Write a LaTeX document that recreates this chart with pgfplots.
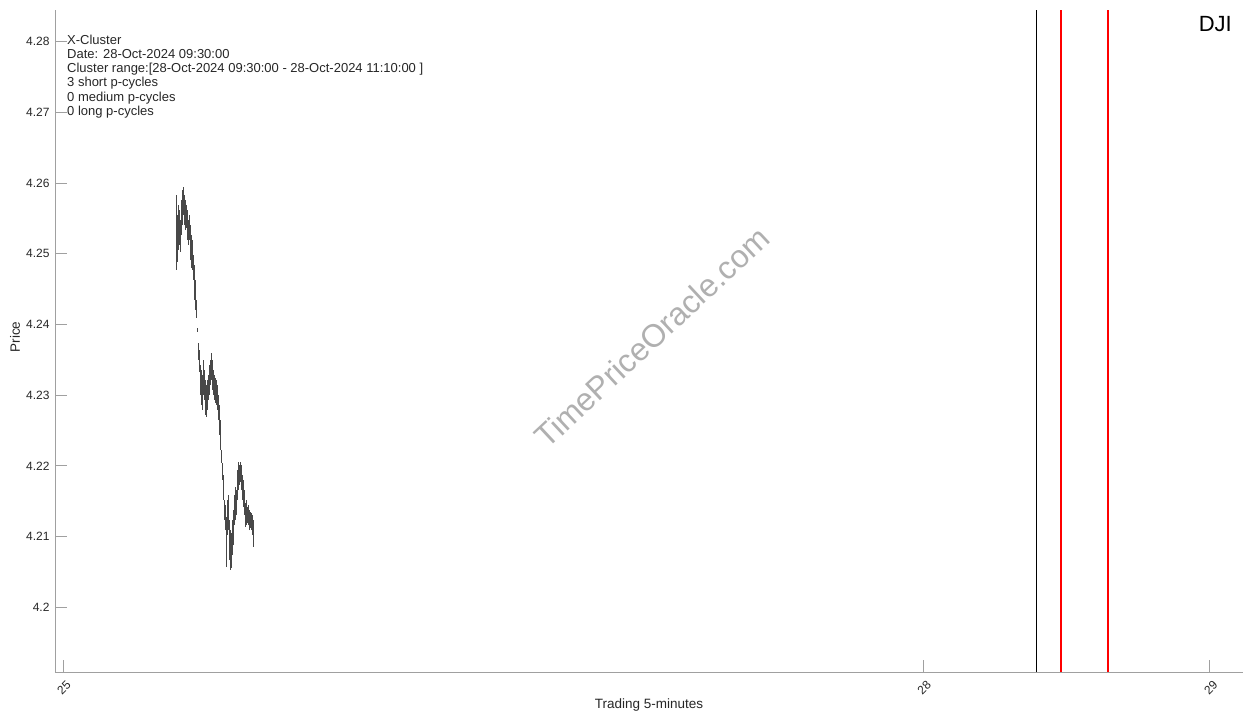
\documentclass[border=0pt]{standalone}
\usepackage{fontspec}
\setmainfont{Liberation Sans}
\usepackage{pgfplots}
\usepackage{pgfplotstable}
\pgfplotsset{compat=1.18}
\definecolor{barc}{HTML}{484848}
\definecolor{axc}{HTML}{A0A0A0}
\definecolor{txt}{HTML}{262626}
\definecolor{wm}{HTML}{B0B0B0}
\pgfplotstableread{
x lo hi
25.3958 4.24771 4.25832
25.3993 4.24884 4.25549
25.4028 4.25054 4.25690
25.4063 4.25125 4.25620
25.4097 4.25026 4.25478
25.4132 4.25266 4.25761
25.4167 4.25407 4.25902
25.4201 4.25549 4.25945
25.4236 4.25407 4.25832
25.4271 4.25337 4.25761
25.4306 4.25365 4.25690
25.4340 4.25195 4.25620
25.4375 4.25125 4.25478
25.4410 4.25195 4.25549
25.4444 4.24912 4.25407
25.4479 4.24799 4.25266
25.4514 4.24771 4.25195
25.4549 4.24630 4.24983
25.4583 4.24347 4.24842
25.4618 4.24205 4.24630
25.4653 4.24092 4.24347
25.4688 4.23894 4.23951
25.4722 4.23498 4.23738
25.4757 4.23328 4.23639
25.4792 4.23003 4.23427
25.4826 4.22862 4.23357
25.4861 4.22791 4.23286
25.4896 4.23003 4.23498
25.4931 4.22932 4.23357
25.4965 4.22720 4.23215
25.5000 4.22692 4.23144
25.5035 4.22791 4.23215
25.5069 4.22932 4.23286
25.5104 4.23003 4.23427
25.5139 4.23144 4.23498
25.5174 4.23215 4.23597
25.5208 4.23074 4.23498
25.5243 4.23003 4.23357
25.5278 4.22932 4.23286
25.5313 4.22890 4.23243
25.5347 4.22862 4.23215
25.5382 4.22791 4.23144
25.5417 4.22649 4.23003
25.5451 4.22437 4.22862
25.5486 4.22225 4.22649
25.5521 4.22041 4.22225
25.5556 4.21801 4.22041
25.5590 4.21518 4.21871
25.5625 4.21235 4.21518
25.5660 4.21093 4.21447
25.5694 4.20570 4.21277
25.5729 4.21023 4.21518
25.5764 4.21093 4.21589
25.5799 4.20669 4.21235
25.5833 4.20528 4.21093
25.5868 4.20556 4.21051
25.5903 4.20740 4.21235
25.5938 4.20881 4.21376
25.5972 4.21164 4.21589
25.6007 4.21235 4.21702
25.6042 4.21306 4.21659
25.6076 4.21518 4.21942
25.6111 4.21659 4.22055
25.6146 4.21730 4.22013
25.6181 4.21772 4.22055
25.6215 4.21659 4.22013
25.6250 4.21518 4.21871
25.6285 4.21419 4.21801
25.6319 4.21306 4.21659
25.6354 4.21136 4.21475
25.6389 4.21164 4.21518
25.6424 4.21192 4.21419
25.6458 4.21164 4.21447
25.6493 4.21093 4.21376
25.6528 4.21122 4.21348
25.6563 4.21093 4.21334
25.6597 4.21023 4.21306
25.6632 4.20853 4.21235
}\bars
\begin{document}
\begin{tikzpicture}
\path[use as bounding box] (0pt,0pt) rectangle (1244pt,719pt);
\node[rotate=43, font=\fontsize{32}{36}\selectfont, text=wm] at (652pt,382pt) {TimePriceOracle.com};
\begin{axis}[
  at={(55pt,47pt)}, anchor=south west,
  width=1188pt, height=662pt, scale only axis,
  xmin=24.9721, xmax=29.1158, ymin=4.19085, ymax=4.28448,
  axis lines=left, axis line style={-, draw=axc, line width=0.9pt},
  xtick={25,28,29},
  ytick={4.2,4.21,4.22,4.23,4.24,4.25,4.26,4.27,4.28},
  tick align=inside, major tick length=12pt,
  tick style={draw=axc, line width=0.9pt},
  tick label style={font=\fontsize{12}{14}\selectfont, text=txt},
  /pgf/number format/assume math mode=true,
  yticklabel style={anchor=east, xshift=-2pt},
  xticklabel style={anchor=center, xshift=1pt, yshift=-16pt, rotate=45},
]
\addplot[draw=none, mark=none, forget plot,
  error bars/.cd, y dir=plus, y explicit, error mark=none,
  error bar style={draw=barc, line width=1pt, solid}]
  table[x=x, y=lo, y error expr=\thisrow{hi}-\thisrow{lo}] {\bars};
\addplot[black, line width=1.3pt] coordinates {(28.3953,4.19085) (28.3953,4.28448)};
\addplot[red, line width=1.4pt] coordinates {(28.4814,4.19085) (28.4814,4.28448)};
\addplot[red, line width=1.4pt] coordinates {(28.6453,4.19085) (28.6453,4.28448)};
\end{axis}
\begin{scope}[every node/.style={anchor=base west, font=\fontsize{13}{15}\selectfont, text=txt, inner sep=0pt}]
\node at (67pt,674.7pt) {X-Cluster};
\node at (67pt,660.5pt) {Date: 28-Oct-2024 09:30:00};
\node at (67pt,646.3pt) {Cluster range:[28-Oct-2024 09:30:00 - 28-Oct-2024 11:10:00 ]};
\node at (67pt,632.1pt) {3 short p-cycles};
\node at (67pt,617.9pt) {0 medium p-cycles};
\node at (67pt,603.7pt) {0 long p-cycles};
\end{scope}
\node[anchor=base east, inner sep=0pt, font=\fontsize{22}{26}\selectfont, text=black] at (1232pt,687.3pt) {DJI};
\node[rotate=90, font=\fontsize{13.5}{15}\selectfont, text=txt] at (15pt,382pt) {Price};
\node[anchor=base, inner sep=0pt, font=\fontsize{13.5}{15}\selectfont, text=txt] at (649pt,10pt) {Trading 5-minutes};
\end{tikzpicture}
\end{document}
